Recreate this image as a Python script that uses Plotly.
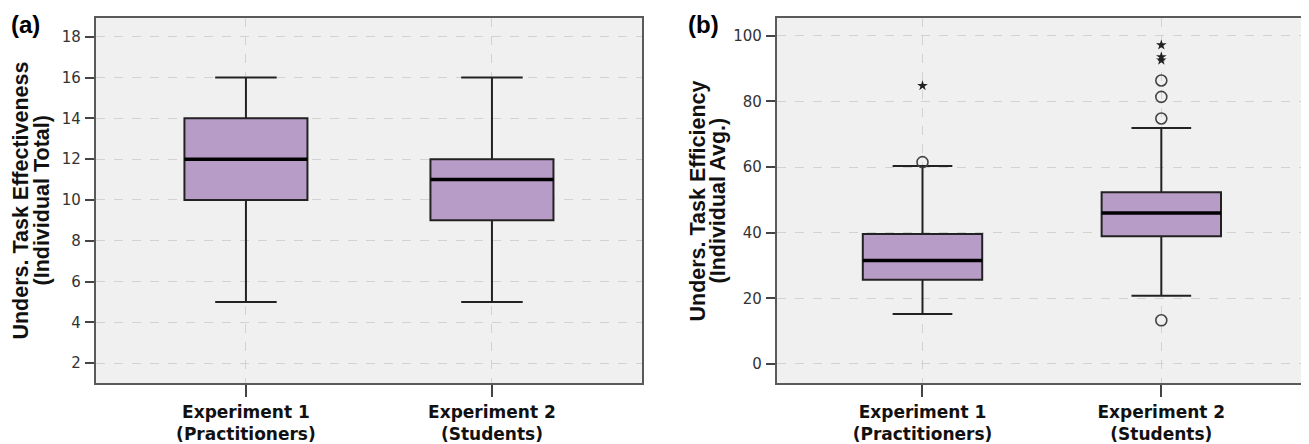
import plotly.graph_objects as go

# ---------------- data ----------------
categories = ["Experiment 1", "Experiment 2"]
tick_labels = ["<b>Experiment 1</b><br><b>(Practitioners)</b>",
               "<b>Experiment 2</b><br><b>(Students)</b>"]

# panel (a): Understanding task effectiveness (individual total)
eff_low = [5, 5]
eff_q1 = [10, 9]
eff_median = [12, 11]
eff_q3 = [14, 12]
eff_high = [16, 16]

# panel (b): Understanding task efficiency (individual avg.)
efc_low = [15.2, 20.8]
efc_q1 = [25.7, 38.9]
efc_median = [31.5, 46.0]
efc_q3 = [39.6, 52.3]
efc_high = [60.3, 71.9]
# outliers (circles) and extremes (stars)
efc_out_cat = ["Experiment 1", "Experiment 2", "Experiment 2", "Experiment 2", "Experiment 2"]
efc_out_val = [61.5, 74.8, 81.4, 86.4, 13.3]
efc_ext_cat = ["Experiment 1", "Experiment 2", "Experiment 2", "Experiment 2"]
efc_ext_val = [84.8, 92.6, 93.6, 97.2]

# ---------------- styling ----------------
BOX_FILL = "#b89cc8"
PLOT_BG = "#f0f0f0"
GRID = "#d2d2d2"
OFF = 8                      # page body margin
W, H = 1309 - OFF, 444 - OFF


def px(x):
    return (x - OFF) / W


def py(y):
    return 1 - (y - OFF) / H


fig = go.Figure()


def add_boxes(xa, ya, low, q1, med, q3, high):
    fig.add_trace(go.Box(
        x=categories, q1=q1, median=med, q3=q3,
        lowerfence=low, upperfence=high,
        boxpoints=False, width=0.5, whiskerwidth=0.5,
        fillcolor=BOX_FILL, line=dict(color="#222222", width=2),
        xaxis=xa, yaxis=ya, showlegend=False, hoverinfo="skip"))
    # thick median line drawn as a degenerate box
    fig.add_trace(go.Box(
        x=categories, q1=med, median=med, q3=med,
        lowerfence=med, upperfence=med,
        boxpoints=False, width=0.5, whiskerwidth=0,
        fillcolor="rgba(0,0,0,0)", line=dict(color="#000000", width=3.5),
        xaxis=xa, yaxis=ya, showlegend=False, hoverinfo="skip"))


add_boxes("x", "y", eff_low, eff_q1, eff_median, eff_q3, eff_high)
add_boxes("x2", "y2", efc_low, efc_q1, efc_median, efc_q3, efc_high)

fig.add_trace(go.Scatter(
    x=efc_out_cat, y=efc_out_val, mode="markers", xaxis="x2", yaxis="y2",
    marker=dict(symbol="circle-open", size=11, color="#444444",
                line=dict(color="#444444", width=1.6)),
    showlegend=False, hoverinfo="skip"))
fig.add_trace(go.Scatter(
    x=efc_ext_cat, y=efc_ext_val, mode="markers", xaxis="x2", yaxis="y2",
    marker=dict(symbol="star", size=8, color="#222222"),
    showlegend=False, hoverinfo="skip"))

ydom = [py(384), py(18)]

xaxis_common = dict(
    type="category", range=[-0.61, 1.61],
    tickvals=categories, ticktext=tick_labels,
    showgrid=True, gridcolor=GRID, griddash="dash", gridwidth=1,
    showline=True, linecolor="#5a5a5a", linewidth=2, mirror=True,
    ticks="outside", ticklen=12, tickwidth=2, tickcolor="#444444",
    tickfont=dict(family="DejaVu Sans", size=17, color="#111111"),
    zeroline=False, fixedrange=True,
)
yaxis_common = dict(
    showgrid=True, gridcolor=GRID, griddash="dash", gridwidth=1,
    showline=True, linecolor="#5a5a5a", linewidth=2, mirror=True,
    ticks="outside", ticklen=9, tickwidth=2, tickcolor="#444444",
    tickfont=dict(family="DejaVu Sans", size=15, color="#333333"),
    zeroline=False, domain=ydom, ticklabelstandoff=1,
)

fig.update_layout(
    width=W, height=H,
    margin=dict(l=0, r=0, t=0, b=0),
    paper_bgcolor="white", plot_bgcolor=PLOT_BG,
    xaxis=dict(xaxis_common, domain=[px(96), px(643)], anchor="y"),
    yaxis=dict(yaxis_common, range=[1.02, 18.92], tickvals=[2, 4, 6, 8, 10, 12, 14, 16, 18], anchor="x"),
    xaxis2=dict(xaxis_common, domain=[px(778), 1.0], anchor="y2"),
    yaxis2=dict(yaxis_common, range=[-5.85, 105.45], tickvals=[0, 20, 40, 60, 80, 100], anchor="x2"),
    boxmode="overlay",
)

title_font = dict(family="Liberation Sans", size=21.5, color="#111111")
ann = []
for xpix, txt in [(21, "<b>Unders. Task Effectiveness</b>"), (42, "<b>(Individual Total)</b>"),
                  (699, "<b>Unders. Task Efficiency</b>"), (719, "<b>(Individual Avg.)</b>")]:
    ann.append(dict(x=px(xpix), y=py(201), xref="paper", yref="paper",
                    text=txt, textangle=-90, showarrow=False,
                    xanchor="center", yanchor="middle", font=title_font))
for xpix, txt in [(26, "<b>(a)</b>"), (705, "<b>(b)</b>")]:
    ann.append(dict(x=px(xpix), y=py(25), xref="paper", yref="paper",
                    text=txt, showarrow=False, xanchor="center", yanchor="middle",
                    font=dict(family="Liberation Sans", size=24, color="#000000")))
fig.update_layout(annotations=ann)

fig.write_html("out.html")
